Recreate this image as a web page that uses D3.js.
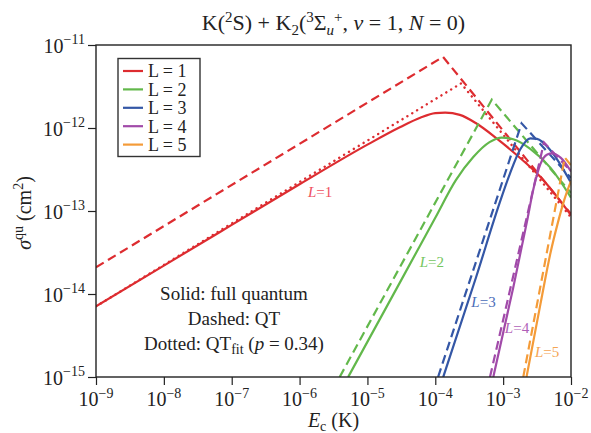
<!DOCTYPE html>
<html><head><meta charset="utf-8">
<script src="https://cdn.jsdelivr.net/npm/d3@7"></script>
<style>body{margin:0;background:#fff} text{white-space:pre}</style>
</head><body><svg id="c" width="591" height="433"></svg>
<script>
// ---------------- data ----------------
const seriesNames  = ["L = 1", "L = 2", "L = 3", "L = 4", "L = 5"];
const curveLabels  = ["1", "2", "3", "4", "5"];
const xTickValues  = [1e-9, 1e-8, 1e-7, 1e-6, 1e-5, 1e-4, 1e-3, 1e-2];
const xTickExps    = ["−9", "−8", "−7", "−6", "−5", "−4", "−3", "−2"];
const yTickValues  = [1e-15, 1e-14, 1e-13, 1e-12, 1e-11];
const yTickExps    = ["−15", "−14", "−13", "−12", "−11"];

// L = 1
const l1SolidE  = [1e-9, 1e-8, 1e-7, 1e-6, 1e-5, 3e-5, 6e-5, 1e-4, 1.4e-4, 2.3e-4, 4e-4, 8e-4, 1.6e-3, 3.5e-3, 1e-2];
const l1SolidS  = [7.1e-15, 2.2e-14, 6.8e-14, 2.1e-13, 6.3e-13, 1.02e-12, 1.33e-12, 1.51e-12, 1.53e-12, 1.44e-12, 1.14e-12, 7.5e-13, 4.7e-13, 2.6e-13, 8.9e-14];
const l1DashE   = [1e-9, 1.3e-4, 1e-2];
const l1DashS   = [2.1e-14, 7.2e-12, 9.2e-14];
const l1DotE    = [1e-9, 2.4e-4, 1e-2];
const l1DotS    = [7.1e-15, 3.45e-12, 8.4e-14];
// L = 2
const l2SolidE  = [5.2e-6, 3.16e-5, 1e-4, 2e-4, 3.63e-4, 6.3e-4, 9.55e-4, 1.41e-3, 2.51e-3, 5.0e-3, 1e-2];
const l2SolidS  = [1e-15, 1.48e-14, 8.3e-14, 2.34e-13, 4.47e-13, 6.76e-13, 7.67e-13, 7.33e-13, 5.62e-13, 3.31e-13, 1.45e-13];
const l2DashE   = [3.9e-6, 6.8e-4, 1e-2];
const l2DashS   = [1e-15, 2.2e-12, 1.65e-13];
// L = 3
const l3SolidE  = [1.31e-4, 3.98e-4, 8.9e-4, 1.26e-3, 1.78e-3, 2.51e-3, 3.16e-3, 5.0e-3, 1e-2];
const l3SolidS  = [1e-15, 1.58e-14, 1.26e-13, 2.82e-13, 5.5e-13, 7.5e-13, 7.4e-13, 5.37e-13, 2.19e-13];
const l3DashE   = [1.1e-4, 1.87e-3, 1e-2];
const l3DashS   = [1e-15, 1.14e-12, 2.5e-13];
// L = 4
const l4SolidE  = [7.16e-4, 1.41e-3, 2.24e-3, 2.82e-3, 3.55e-3, 4.47e-3, 5.25e-3, 7.08e-3, 1e-2];
const l4SolidS  = [1e-15, 1.2e-14, 7.4e-14, 1.9e-13, 3.7e-13, 4.8e-13, 4.95e-13, 4.37e-13, 3.0e-13];
const l4DashE   = [6.4e-4, 4.0e-3, 1e-2];
const l4DashS   = [1e-15, 6.7e-13, 3.0e-13];
// L = 5
const l5SolidE  = [2.21e-3, 3.55e-3, 5.0e-3, 6.31e-3, 7.94e-3, 1e-2];
const l5SolidS  = [1e-15, 7.6e-15, 3.16e-14, 6.9e-14, 1.35e-13, 2.3e-13];
const l5DashE   = [1.98e-3, 8.1e-3, 1e-2];
const l5DashS   = [1e-15, 4.4e-13, 3.55e-13];

// ---------------- setup ----------------
const colors = ["#dd2c30", "#62b84b", "#3457a6", "#a14aa9", "#f49b38"];
const labelColors = ["#ef4f60", "#74c660", "#4a6cb8", "#b060b8", "#f5a553"];
const FONT = "'Liberation Serif','Times New Roman',serif";
const M = {left: 96, right: 571, top: 45, bottom: 377};

const svg = d3.select("#c");
const x = d3.scaleLog().domain([1e-9, 1e-2]).range([M.left, M.right]);
const y = d3.scaleLog().domain([1e-15, 1e-11]).range([M.bottom, M.top]);

svg.append("defs").append("clipPath").attr("id", "clip")
  .append("rect").attr("x", M.left).attr("y", M.top)
  .attr("width", M.right - M.left).attr("height", M.bottom - M.top);

// rich text helper: parts = [{t, lvl(0/1/-1), it}]
function rich(sel, parts, size, supSize, supShift, subShift) {
  let prev = 0;
  const shift = l => l === 1 ? -supShift : (l === -1 ? subShift : 0);
  parts.forEach(p => {
    const lvl = p.lvl || 0;
    const ts = sel.append("tspan").text(p.t)
      .attr("dy", shift(lvl) - shift(prev))
      .attr("font-size", lvl === 0 ? size : supSize);
    if (p.it) ts.attr("font-style", "italic");
    prev = lvl;
  });
  return sel;
}

// ---------------- axes ----------------
const gx = svg.append("g").attr("transform", `translate(0,${M.bottom})`)
  .call(d3.axisBottom(x).tickValues(xTickValues).tickSize(8).tickFormat(""));
const gy = svg.append("g").attr("transform", `translate(${M.left},0)`)
  .call(d3.axisLeft(y).tickValues(yTickValues).tickSize(8).tickFormat(""));
[gx, gy].forEach(g => {
  g.select(".domain").remove();
  g.selectAll(".tick line").attr("stroke", "#222").attr("stroke-width", 1.2);
});

xTickValues.forEach((v, i) => {
  const t = svg.append("text").attr("x", x(v)).attr("y", 406)
    .attr("text-anchor", "middle").attr("font-family", FONT).attr("fill", "#222");
  rich(t, [{t: "10"}, {t: xTickExps[i], lvl: 1}], 20, 14, 8.5, 0);
});
yTickValues.forEach((v, i) => {
  const t = svg.append("text").attr("x", 85).attr("y", y(v) + 7.5)
    .attr("text-anchor", "end").attr("font-family", FONT).attr("fill", "#222");
  rich(t, [{t: "10"}, {t: yTickExps[i], lvl: 1}], 20, 14, 8.5, 0);
});

// ---------------- curves ----------------
const line = d3.line().x(d => x(d[0])).y(d => y(d[1]));
const smooth = d3.line().x(d => x(d[0])).y(d => y(d[1])).curve(d3.curveMonotoneX);
const zip = (a, b) => a.map((v, i) => [v, b[i]]);

const series = [
  {solid: zip(l1SolidE, l1SolidS), dash: zip(l1DashE, l1DashS), dot: zip(l1DotE, l1DotS)},
  {solid: zip(l2SolidE, l2SolidS), dash: zip(l2DashE, l2DashS)},
  {solid: zip(l3SolidE, l3SolidS), dash: zip(l3DashE, l3DashS)},
  {solid: zip(l4SolidE, l4SolidS), dash: zip(l4DashE, l4DashS)},
  {solid: zip(l5SolidE, l5SolidS), dash: zip(l5DashE, l5DashS)},
];

const plot = svg.append("g").attr("clip-path", "url(#clip)");
series.forEach((s, i) => {
  plot.append("path").attr("d", line(s.dash)).attr("fill", "none")
    .attr("stroke", colors[i]).attr("stroke-width", 2.2).attr("stroke-dasharray", "9,5");
  plot.append("path").attr("d", smooth(s.solid)).attr("fill", "none")
    .attr("stroke", colors[i]).attr("stroke-width", 2.2);
  if (s.dot) plot.append("path").attr("d", line(s.dot)).attr("fill", "none")
    .attr("stroke", colors[i]).attr("stroke-width", 2.4)
    .attr("stroke-linecap", "round").attr("stroke-dasharray", "0.1,5.6");
});

// curve labels (anchored in data units)
const labelAnchorE = [1.33e-6, 5.9e-5, 3.4e-4, 1.06e-3, 2.95e-3];
const labelAnchorS = [1.7e-13, 2.45e-14, 8.1e-15, 3.9e-15, 2.0e-15];
labelAnchorE.forEach((e, i) => {
  const t = svg.append("text").attr("x", x(e)).attr("y", y(labelAnchorS[i]) + 5)
    .attr("font-family", FONT).attr("fill", labelColors[i]);
  rich(t, [{t: "L", it: true}, {t: "=" + curveLabels[i]}], 15, 15, 0, 0);
});

// frame
svg.append("rect").attr("x", M.left).attr("y", M.top)
  .attr("width", M.right - M.left).attr("height", M.bottom - M.top)
  .attr("fill", "none").attr("stroke", "#222").attr("stroke-width", 1.4);

// ---------------- legend ----------------
const lg = svg.append("g");
lg.append("rect").attr("x", 118).attr("y", 58.5).attr("width", 82).attr("height", 98)
  .attr("fill", "#fff").attr("stroke", "#333").attr("stroke-width", 1.4);
seriesNames.forEach((n, i) => {
  const cy = 71 + i * 18.4;
  lg.append("line").attr("x1", 123).attr("x2", 143).attr("y1", cy).attr("y2", cy)
    .attr("stroke", colors[i]).attr("stroke-width", 2.2);
  lg.append("text").attr("x", 148).attr("y", cy + 6.3).attr("font-family", FONT)
    .attr("font-size", 18).attr("fill", "#222").text(n);
});

// ---------------- annotations ----------------
const notes = svg.append("g").attr("font-family", FONT).attr("fill", "#222").attr("text-anchor", "middle");
notes.append("text").attr("x", 234).attr("y", 300).attr("font-size", 19).text("Solid: full quantum");
notes.append("text").attr("x", 234).attr("y", 325).attr("font-size", 19).text("Dashed: QT");
rich(notes.append("text").attr("x", 234).attr("y", 350),
  [{t: "Dotted: QT"}, {t: "fit", lvl: -1}, {t: " ("}, {t: "p", it: true}, {t: " = 0.34)"}], 19, 14, 0, 4);

// title
rich(svg.append("text").attr("x", (M.left + M.right) / 2).attr("y", 30)
  .attr("text-anchor", "middle").attr("font-family", FONT).attr("fill", "#222"),
  [{t: "K("}, {t: "2", lvl: 1}, {t: "S) + K"}, {t: "2", lvl: -1}, {t: "("}, {t: "3", lvl: 1},
   {t: "Σ"}, {t: "u", lvl: -1, it: true}, {t: "+", lvl: 1}, {t: ", "}, {t: "v", it: true},
   {t: " = 1, "}, {t: "N", it: true}, {t: " = 0)"}], 22, 15, 8, 5);

// axis labels
rich(svg.append("text").attr("x", (M.left + M.right) / 2).attr("y", 427)
  .attr("text-anchor", "middle").attr("font-family", FONT).attr("fill", "#222"),
  [{t: "E", it: true}, {t: "c", lvl: -1}, {t: " (K)"}], 20, 14, 0, 4);
rich(svg.append("text").attr("transform", "translate(31,213) rotate(-90)")
  .attr("text-anchor", "middle").attr("font-family", FONT).attr("fill", "#222"),
  [{t: "σ", it: true}, {t: "qu", lvl: 1}, {t: " (cm"}, {t: "2", lvl: 1}, {t: ")"}], 20, 14, 8, 0);
</script></body></html>
